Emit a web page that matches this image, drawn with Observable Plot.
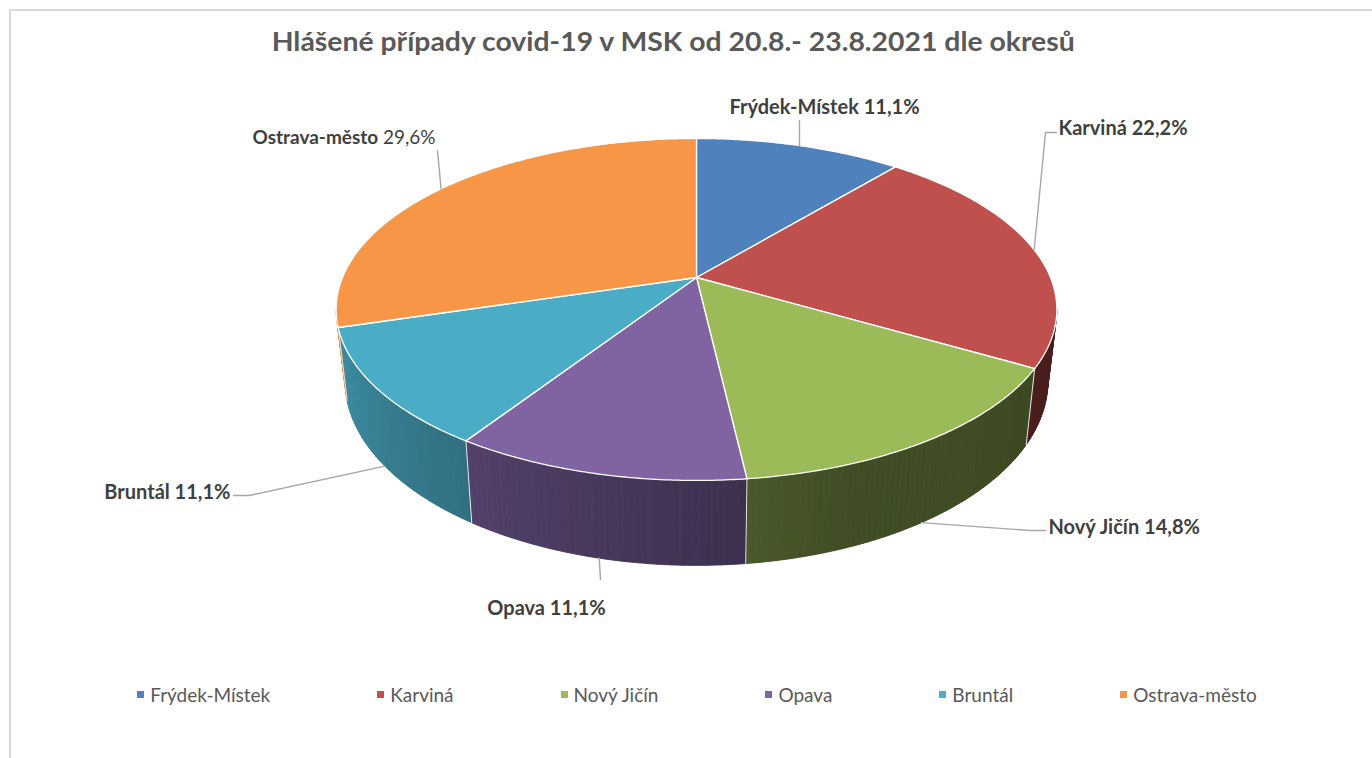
<!DOCTYPE html>
<html><head><meta charset="utf-8">
<script src="https://cdn.jsdelivr.net/npm/d3@7"></script>
<script src="https://cdn.jsdelivr.net/npm/@observablehq/plot@0.6"></script>
<style>
body{margin:0;background:#fff;}
#wrap{position:relative;width:1372px;height:758px;overflow:hidden;font-family:Lato,"Open Sans",sans-serif;background:#fff;}
#frame{position:absolute;left:9px;top:9px;width:1400px;height:800px;border-top:2px solid #d9d9d9;border-left:2px solid #d9d9d9;}
#title{position:absolute;top:24px;left:0;width:1346px;text-align:center;white-space:nowrap;}
#title span{display:inline-block;font-weight:700;font-size:27px;color:#595959;transform-origin:center;}
#chart{position:absolute;left:0;top:70px;}
#legend{position:absolute;left:0;top:683px;width:1394px;display:flex;justify-content:center;gap:107px;color:#595959;font-size:19px;}
#legend .it{display:flex;align-items:center;white-space:nowrap;}
#legend .sw{width:7px;height:7px;margin-right:6px;}
</style></head>
<body><div id="wrap"><div id="frame"></div><div id="title"><span id="tt"></span></div><div id="chart"></div><div id="legend"></div></div>
<script>
// ---- data ----
const titleText = "Hlášené případy covid-19 v MSK od 20.8.- 23.8.2021 dle okresů";
const districts = ["Frýdek-Místek","Karviná","Nový Jičín","Opava","Bruntál","Ostrava-město"];
const cases = [3,6,4,3,3,8];
const colors = ["#4F81BD","#C0504D","#9BBB59","#8064A2","#4BACC6","#F79646"];

// ---- layout (3D pie projection) ----
const G = {cx:696, cy:277, rx:354, ry:165, k:0.187, h:69, shrink:0.975};
const labelLayout = {
  "Frýdek-Místek": {x:824, y:107, anchor:"middle", lead:[[799,120]], size:20},
  "Karviná": {x:1058, y:128, anchor:"start", lead:[[1056,132],[1045,132]], size:20},
  "Nový Jičín": {x:1048, y:527, anchor:"start", lead:[[1045,530],[1030,530]], size:20},
  "Opava": {x:546, y:608, anchor:"middle", lead:[[600,579]], size:20},
  "Bruntál": {x:230, y:492, anchor:"end", lead:[[233,495],[249,495]], size:20},
  "Ostrava-město": {x:435, y:137, anchor:"end", lead:[[437,150]], size:19}
};

const total = d3.sum(cases);
const pct = v => (v / total * 100).toFixed(1).replace(".", ",") + "%";
function topPt(t){ const s = 1/(1 + G.k*Math.cos(t)); return [G.cx + G.rx*Math.sin(t)*s, G.cy - G.ry*Math.cos(t)*s]; }
function botPt(t){ const s = 1/(1 + G.k*Math.cos(t)); const [x,y] = topPt(t); return [G.cx + (x-G.cx)*G.shrink, y + G.h*s]; }
const sil1 = Math.acos(-G.k), sil2 = 2*Math.PI - sil1;
const shadeF = d3.scaleLinear().domain([100,160,259]).range([0.38,0.42,0.85]).clamp(true);
function shade(c, t){ const f = shadeF(t*180/Math.PI); const r = d3.rgb(c); return d3.rgb(r.r*f, r.g*f, r.b*f).formatHex(); }

const arcs = d3.pie().sort(null).value(d => d)(cases);

const topPts = [], wallPts = [], sidePts = [], edgePts = [], leadPts = [], labels = [];
arcs.forEach((a, i) => {
  const a0 = a.startAngle, a1 = a.endAngle;
  // top face
  topPts.push({id:i, color:colors[i], x:G.cx, y:G.cy});
  const n = Math.ceil((a1 - a0)/0.01);
  for (let j = 0; j <= n; j++){ const t = a0 + (a1-a0)*j/n; const [x,y] = topPt(t); topPts.push({id:i, color:colors[i], x, y}); }
  // outer wall
  const b0 = Math.max(a0, sil1), b1 = Math.min(a1, sil2);
  if (b0 < b1){
    const m = Math.ceil((b1-b0)/0.015);
    const base = shade(colors[i], (b0+b1)/2);
    const ts = d3.range(m+1).map(j => b0 + (b1-b0)*j/m);
    ts.forEach(t => { const [x,y] = topPt(t); wallPts.push({id:i, color:base, x, y}); });
    ts.slice().reverse().forEach(t => { const [x,y] = botPt(t); wallPts.push({id:i, color:base, x, y}); });
    for (let j = 0; j < m; j++){
      const t0 = ts[j], t1 = ts[j+1];
      const c = shade(colors[i], (t0+t1)/2), id = i + "-" + j;
      [topPt(t0), topPt(t1), botPt(t1), botPt(t0)].forEach(([x,y]) => sidePts.push({id, color:c, x, y}));
    }
  }
  if (a0 > sil1 && a0 < sil2){
    [topPt(a0), botPt(a0)].forEach(([x,y]) => edgePts.push({id:i, x, y}));
  }
  // leader line + label
  const L = labelLayout[districts[i]];
  const mid = (a0 + a1)/2;
  const end = (mid > sil1 && mid < sil2) ? botPt(mid) : topPt(mid);
  [...L.lead, end].forEach(([x,y]) => leadPts.push({id:i, x, y}));
  labels.push({name:districts[i], text:districts[i] + " " + pct(cases[i]), x:L.x, y:L.y, anchor:L.anchor, size:L.size});
});

const textOpts = anchor => ({x:"x", y:"y", text:"text", textAnchor:anchor, fontFamily:"Lato, 'Open Sans', sans-serif", fontSize:"size", fontWeight:700, fill:"#404040"});

const chart = Plot.plot({
  width:1372, height:600, margin:0,
  x:{type:"linear", domain:[0,1372], range:[0,1372], axis:null},
  y:{type:"linear", domain:[70,670], range:[0,600], axis:null},
  marks:[
    Plot.line(wallPts, {x:"x", y:"y", z:"id", fill:"color", stroke:"color", strokeWidth:0.5, curve:"linear-closed"}),
    Plot.line(sidePts, {x:"x", y:"y", z:"id", fill:"color", stroke:"color", strokeWidth:0.6, curve:"linear-closed"}),
    Plot.line(edgePts, {x:"x", y:"y", z:"id", stroke:"#e6e6e6", strokeWidth:1}),
    Plot.line(topPts, {x:"x", y:"y", z:"id", fill:"color", stroke:"#ffffff", strokeWidth:1.3, curve:"linear-closed"}),
    Plot.line(leadPts, {x:"x", y:"y", z:"id", stroke:"#a6a6a6", strokeWidth:1.4}),
    Plot.text(labels.filter(d => d.anchor === "start"), textOpts("start")),
    Plot.text(labels.filter(d => d.anchor === "middle"), textOpts("middle")),
    Plot.text(labels.filter(d => d.anchor === "end"), textOpts("end"))
  ]
});
document.getElementById("chart").appendChild(chart);

// Ostrava-město label: percentage in regular weight
chart.querySelectorAll("text").forEach(el => {
  const lab = labels.find(d => d.text === el.textContent && d.name === "Ostrava-město");
  if (lab){
    el.textContent = "";
    const ns = "http://www.w3.org/2000/svg";
    const t1 = document.createElementNS(ns, "tspan"); t1.textContent = lab.name + " "; t1.setAttribute("font-weight", "700");
    const t2 = document.createElementNS(ns, "tspan"); t2.textContent = pct(cases[districts.indexOf(lab.name)]); t2.setAttribute("font-weight", "400");
    el.appendChild(t1); el.appendChild(t2);
  }
});

// title
const tt = document.getElementById("tt");
tt.textContent = titleText;
const tw = tt.getBoundingClientRect().width;
tt.style.transform = `scaleX(${803/tw})`;

// legend
const leg = document.getElementById("legend");
districts.forEach((d, i) => {
  const it = document.createElement("div"); it.className = "it";
  const sw = document.createElement("div"); sw.className = "sw"; sw.style.background = colors[i];
  const tx = document.createElement("span"); tx.textContent = d;
  it.appendChild(sw); it.appendChild(tx); leg.appendChild(it);
});
</script></body></html>
